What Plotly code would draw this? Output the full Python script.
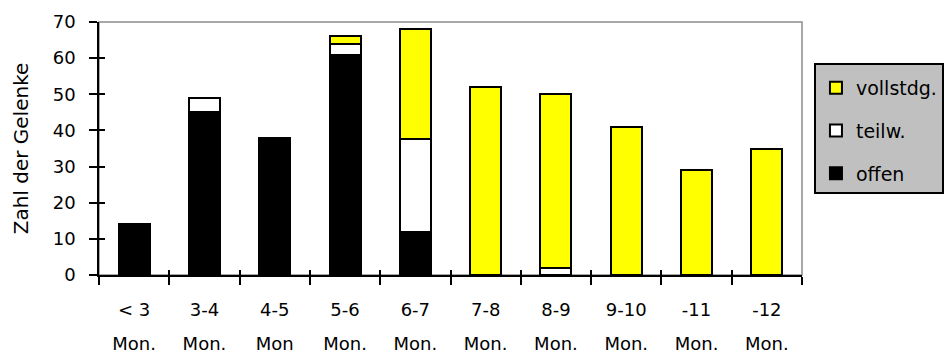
import plotly.graph_objects as go

categories = ["< 3", "3-4", "4-5", "5-6", "6-7", "7-8", "8-9", "9-10", "-11", "-12"]
units = ["Mon.", "Mon.", "Mon", "Mon.", "Mon.", "Mon.", "Mon.", "Mon.", "Mon.", "Mon."]
offen = [14, 45, 38, 61, 12, None, None, None, None, None]
teilw = [None, 4, None, 3, 25.5, None, 2, None, None, None]
vollstdg = [None, None, None, 2, 30.5, 52, 48, 41, 29, 35]
y_ticks = [0, 10, 20, 30, 40, 50, 60, 70]

FONT = "DejaVu Sans"
fig = go.Figure()
series = [("offen", offen, "#000000", 3), ("teilw.", teilw, "#ffffff", 2), ("vollstdg.", vollstdg, "#ffff00", 1)]
for name, vals, col, rank in series:
    fig.add_trace(go.Bar(
        x=categories, y=vals, name=name, legendgroup=name, legendrank=rank,
        marker=dict(color=col, line=dict(color="#000000", width=2)),
    ))
# helper trace so the overlay axes (inner tick halves, unit labels) are drawn
fig.add_trace(go.Scatter(x=categories, y=[None] * len(categories), xaxis="x2", yaxis="y2",
                         mode="markers", showlegend=False, hoverinfo="skip"))

fig.update_layout(
    width=947, height=354,
    margin=dict(l=99, r=145, t=22, b=79, autoexpand=False),
    paper_bgcolor="white", plot_bgcolor="white",
    barmode="stack", bargap=0.56,
    font=dict(family=FONT, size=18, color="#000000"),
    xaxis=dict(type="category", categoryorder="array", categoryarray=categories,
               range=[-0.5, 9.5], tickson="boundaries", ticks="outside", ticklen=8,
               tickwidth=1.5, tickcolor="#000", showline=True, linecolor="#000", linewidth=1.5,
               showgrid=False, automargin=False,
               tickfont=dict(family=FONT, size=18), ticklabelstandoff=18),
    xaxis2=dict(type="category", categoryorder="array", categoryarray=categories,
                overlaying="x", anchor="y", side="bottom",
                range=[-0.5, 9.5], tickson="boundaries", ticks="inside", ticklen=5,
                tickwidth=1.5, tickcolor="#000", showline=False, showgrid=False, automargin=False,
                tickvals=categories, ticktext=units,
                tickfont=dict(family=FONT, size=18), ticklabelstandoff=56),
    yaxis=dict(range=[0, 70], tickvals=y_ticks, ticks="outside", ticklen=8, tickwidth=1.5,
               tickcolor="#000", showline=True, linecolor="#000", linewidth=1.5, showgrid=False,
               zeroline=False, automargin=False,
               tickfont=dict(family=FONT, size=18), ticklabelstandoff=10,
               title=dict(text="Zahl der Gelenke", font=dict(family=FONT, size=20), standoff=19)),
    yaxis2=dict(range=[0, 70], tickvals=y_ticks, overlaying="y", anchor="x", side="left",
                ticks="inside", ticklen=6, tickwidth=1.5, tickcolor="#000", automargin=False,
                showticklabels=False, showline=False, showgrid=False, zeroline=False),
    legend=dict(x=1.017, xanchor="left", y=0.838, yanchor="top",
                bgcolor="#c0c0c0", bordercolor="#000", borderwidth=2,
                traceorder="grouped", tracegroupgap=15, itemwidth=30,
                title=dict(text=" ", font=dict(size=3)),
                font=dict(family=FONT, size=19)),
    shapes=[dict(type="rect", xref="paper", yref="paper", x0=0, x1=1, y0=0, y1=1,
                 line=dict(color="#8c8c8c", width=1.5), layer="below")],
)
fig.write_html("out.html", config={"displayModeBar": False},
               post_script="document.body.style.margin='0';")
